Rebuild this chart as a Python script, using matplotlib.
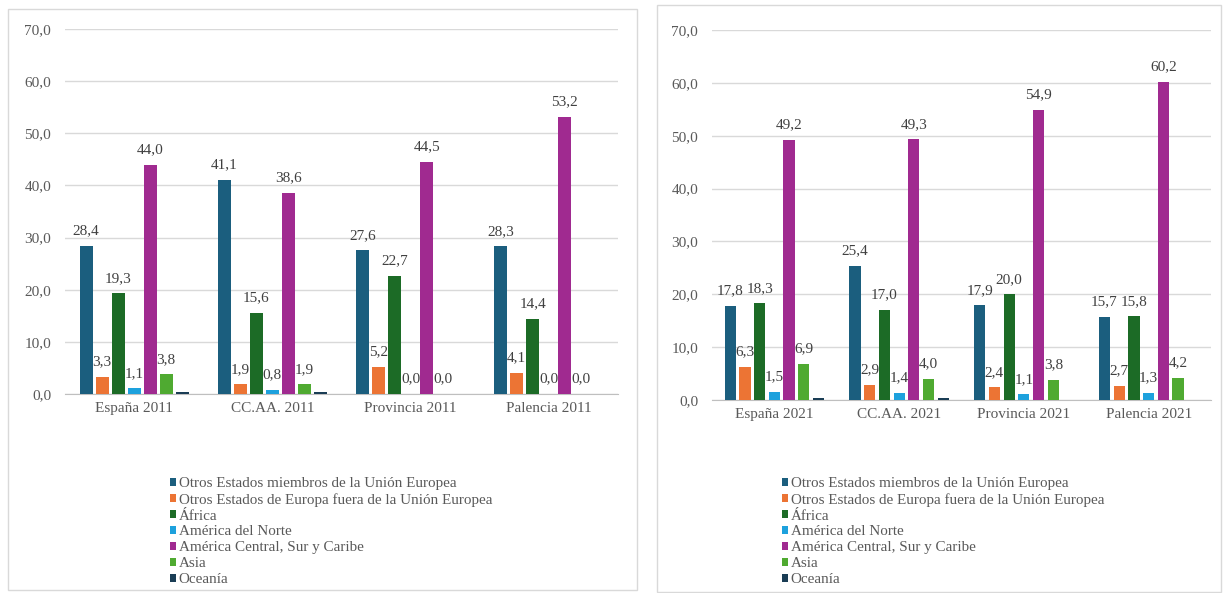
import matplotlib.pyplot as plt
from matplotlib.patches import Rectangle, Patch
import numpy as np

plt.rcParams['font.family'] = ['Liberation Serif', 'DejaVu Serif']

series = ['Otros Estados miembros de la Unión Europea',
          'Otros Estados de Europa fuera de la Unión Europea',
          'África',
          'América del Norte',
          'América Central, Sur y Caribe',
          'Asia',
          'Oceanía']
colors = ['#1b5e7e', '#ec7434', '#1c6b26', '#1da1dd', '#a02a90', '#4faa31', '#1a3d55']

cats_2011 = ['España 2011', 'CC.AA. 2011', 'Provincia 2011', 'Palencia 2011']
cats_2021 = ['España 2021', 'CC.AA. 2021', 'Provincia 2021', 'Palencia 2021']

# one row per series, one value per territory (None = no bar)
vals_2011 = [
    [28.4, 41.1, 27.6, 28.3],
    [3.3, 1.9, 5.2, 4.1],
    [19.3, 15.6, 22.7, 14.4],
    [1.1, 0.8, 0.0, 0.0],
    [44.0, 38.6, 44.5, 53.2],
    [3.8, 1.9, 0.0, 0.0],
    [0.3, 0.3, None, None],
]
vals_2021 = [
    [17.8, 25.4, 17.9, 15.7],
    [6.3, 2.9, 2.4, 2.7],
    [18.3, 17.0, 20.0, 15.8],
    [1.5, 1.4, 1.1, 1.3],
    [49.2, 49.3, 54.9, 60.2],
    [6.9, 4.0, 3.8, 4.2],
    [0.3, 0.3, None, None],
]

text_col = '#595959'
W, H = 1229, 593
fig = plt.figure(figsize=(W / 100, H / 100), dpi=100)


def px(x0, y0, x1, y1):
    # pixel box (top-left origin) -> figure fraction rect
    return [x0 / W, (H - y1) / H, (x1 - x0) / W, (y1 - y0) / H]


# panel frames
for x0, y0, x1, y1 in [(8, 9, 637, 590), (657, 5, 1221, 592)]:
    fig.patches.append(Rectangle((x0 / W, (H - y1) / H), (x1 - x0) / W, (y1 - y0) / H,
                                 transform=fig.transFigure, fill=False,
                                 edgecolor='#d9d9d9', linewidth=1.0))


def draw_panel(rect, cats, vals, slot, bw):
    ax = fig.add_axes(rect)
    n = len(series)
    x = np.arange(len(cats))
    for i in range(n):
        off = (i - (n - 1) / 2) * slot
        for j, v in enumerate(vals[i]):
            if v is None:
                continue
            ax.bar(x[j] + off, v, width=bw, color=colors[i], zorder=3)
            if i < n - 1:
                ax.text(x[j] + off, v + 1.6, f'{v:.1f}'.replace('.', ','),
                        ha='center', va='bottom', fontsize=11, color='#404040', zorder=4)
    ax.set_xlim(-0.5, len(cats) - 0.5)
    ax.set_ylim(0, 70)
    ax.set_yticks(np.arange(0, 71, 10))
    ax.set_yticklabels([f'{t:.1f}'.replace('.', ',') for t in np.arange(0, 71, 10)])
    ax.set_xticks(x)
    ax.set_xticklabels(cats)
    ax.grid(axis='y', color='#d9d9d9', linewidth=1.0, zorder=0)
    for s in ['top', 'right', 'left']:
        ax.spines[s].set_visible(False)
    ax.spines['bottom'].set_color('#bfbfbf')
    ax.tick_params(axis='both', length=0, labelsize=11, labelcolor=text_col)
    ax.tick_params(axis='y', pad=10)
    ax.tick_params(axis='x', pad=6)
    return ax


draw_panel(px(65, 29, 618, 394), cats_2011, vals_2011, 0.116, 0.094)
draw_panel(px(712, 30, 1211, 400), cats_2021, vals_2021, 0.118, 0.09)

handles = [Patch(facecolor=c, edgecolor='none') for c in colors]
for lx, ly in [(170 / W, 1 - 477 / H), (782 / W, 1 - 477 / H)]:
    fig.legend(handles, series, loc='upper left', bbox_to_anchor=(lx, ly),
               frameon=False, fontsize=10.9, labelcolor=text_col,
               handlelength=0.42, handleheight=0.42, handletextpad=0.15,
               labelspacing=0.19, borderpad=0, borderaxespad=0)

fig.savefig('out.png', dpi=100, facecolor='white')
